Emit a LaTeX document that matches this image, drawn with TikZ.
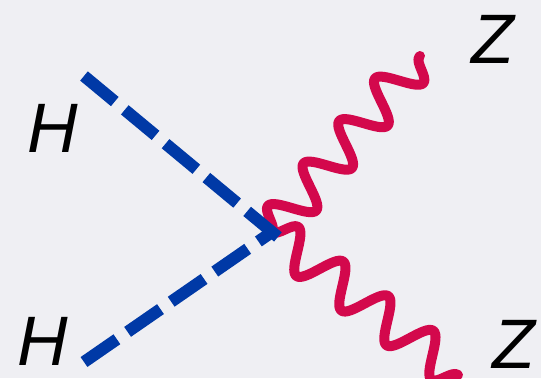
\documentclass[tikz,border=0pt]{standalone}
\usepackage{fontspec}
\setmainfont{Liberation Sans}
\usepackage{tikz}
\usetikzlibrary{decorations.pathmorphing}
\definecolor{mybg}{RGB}{239,239,243}
\definecolor{myblue}{RGB}{0,57,166}
\definecolor{myred}{RGB}{211,8,76}
\tikzset{
  higgs/.style={draw=myblue, line width=12pt, dash pattern=on 40pt off 13pt},
  zboson/.style={draw=myred, line width=10pt, line cap=round, line join=round,
    decorate, decoration={snake, amplitude=20pt, segment length=55.5pt}},
  particle/.style={font=\fontsize{70}{70}\selectfont\itshape, inner sep=0pt}
}
\begin{document}
\begin{tikzpicture}[x=1pt, y=-1pt]
    \fill[mybg] (0,0) rectangle (541,378);
    \clip (0,0) rectangle (541,378);
    \node[particle] (h1) at (53,128) {H};
    \node[particle] (h2) at (43,341) {H};
    \node[particle] (z1) at (493,39) {Z};
    \node[particle] (z2) at (514,344) {Z};
    \coordinate (v) at (272,232);
    \coordinate (p1) at (84,76);
    \coordinate (p2) at (84,362);
    \coordinate (q1) at (420,56);
    \coordinate (q2) at (458,375);
    % bosons first, scalars on top
    \draw[zboson] (v) -- (q1);
    \draw[zboson, decoration={segment length=56.8pt}] (v) -- (q2);
    \draw[higgs] (p2) -- (v);
    \draw[higgs, shorten >=-8pt] (p1) -- (v);
\end{tikzpicture}
\end{document}
